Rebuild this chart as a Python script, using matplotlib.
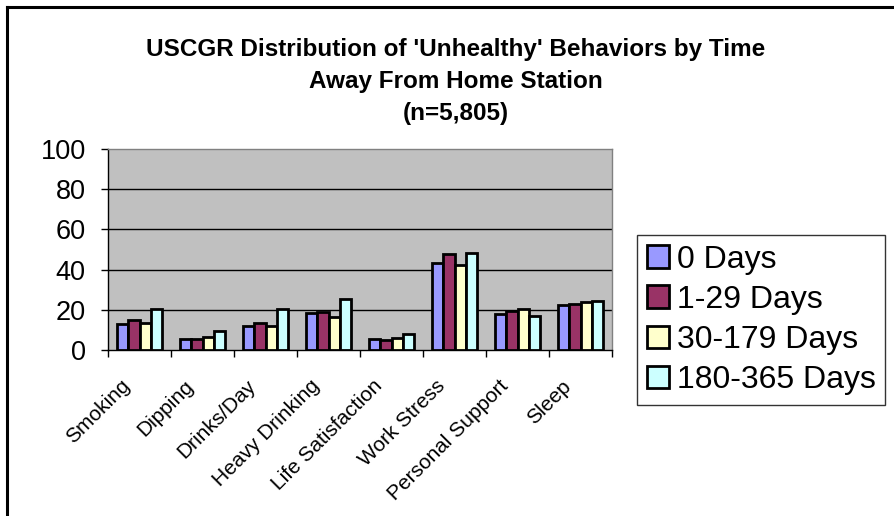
import matplotlib
matplotlib.use("Agg")
import matplotlib.pyplot as plt
import matplotlib.transforms as mtransforms
import numpy as np
from matplotlib.lines import Line2D

plt.rcParams['font.family'] = ['Liberation Sans', 'DejaVu Sans']

categories = ["Smoking", "Dipping", "Drinks/Day", "Heavy Drinking", "Life Satisfaction",
              "Work Stress", "Personal Support", "Sleep"]
series_names = ["0 Days", "1-29 Days", "30-179 Days", "180-365 Days"]
days_0 = [13.1, 5.5, 12.1, 18.3, 5.3, 43.2, 17.8, 22.4]
days_1_29 = [14.8, 5.5, 13.3, 18.9, 5.0, 47.7, 19.4, 23.0]
days_30_179 = [13.5, 6.5, 11.8, 16.3, 5.8, 42.5, 20.6, 24.0]
days_180_365 = [20.3, 9.3, 20.3, 25.4, 8.0, 48.5, 16.8, 24.5]
yticks = [0, 20, 40, 60, 80, 100]
colors = ["#9999FF", "#993366", "#FFFFCC", "#CCFFFF"]

W, H = 894, 516
fig = plt.figure(figsize=(W / 100, H / 100), dpi=100)
fig.patch.set_facecolor("white")

left, right, top, bottom = 108, 612, 149, 350
ax = fig.add_axes([left / W, 1 - bottom / H, (right - left) / W, (bottom - top) / H])
ax.set_facecolor("#C0C0C0")

x = np.arange(len(categories))
bw = 0.18
all_series = [days_0, days_1_29, days_30_179, days_180_365]
for i, (vals, c, name) in enumerate(zip(all_series, colors, series_names)):
    ax.bar(x + (i - 1.5) * bw, vals, width=bw, color=c, edgecolor="black",
           linewidth=2.0, label=name, zorder=3)

ax.set_xlim(-0.5, len(categories) - 0.5)
ax.set_ylim(0, 100)
ax.set_yticks(yticks)
ax.set_yticklabels([str(v) for v in yticks], fontsize=19.5)
for v in yticks[1:-1]:
    ax.axhline(v, color="black", linewidth=1.0, zorder=1)

ax.set_xticks(np.arange(len(categories) + 1) - 0.5, minor=False)
ax.set_xticklabels([])
ax.tick_params(axis="x", which="major", direction="out", length=5, width=1, color="black")
ax.set_xticks(x, minor=True)
ax.set_xticklabels(categories, minor=True, rotation=45, ha="right", va="top",
                   rotation_mode="anchor", fontsize=15)
ax.tick_params(axis="x", which="minor", length=0, pad=6)
offset = mtransforms.ScaledTranslation(-19 / 100, -18 / 100, fig.dpi_scale_trans)
for lbl in ax.get_xticklabels(minor=True):
    lbl.set_transform(lbl.get_transform() + offset)
ax.tick_params(axis="y", direction="out", length=5, width=1, color="black", pad=11)

ax.spines["left"].set_color("black")
ax.spines["bottom"].set_color("black")
ax.spines["top"].set_color("#808080")
ax.spines["right"].set_color("#808080")
for s in ax.spines.values():
    s.set_linewidth(1.0)

fig.text(456 / W, 1 - 38 / H,
         "USCGR Distribution of 'Unhealthy' Behaviors by Time\nAway From Home Station\n(n=5,805)",
         ha="center", va="top", fontsize=17.5, fontweight="bold", linespacing=1.5)

leg = fig.legend(loc="upper left", bbox_to_anchor=(637 / W, 1 - 235 / H),
                 fontsize=23, frameon=True, fancybox=False, shadow=False,
                 handlelength=0.7, handleheight=0.7, handletextpad=0.25,
                 borderpad=0.3, labelspacing=0.32, borderaxespad=0)
leg.get_frame().set_edgecolor("black")
leg.get_frame().set_linewidth(1.0)

fig.add_artist(Line2D([7 / W, 7 / W], [0, 1 - 7 / H], color="black", linewidth=2.2,
                      transform=fig.transFigure))
fig.add_artist(Line2D([7 / W, 1], [1 - 7 / H, 1 - 7 / H], color="black", linewidth=2.2,
                      transform=fig.transFigure))

fig.savefig("out.png", dpi=100)
